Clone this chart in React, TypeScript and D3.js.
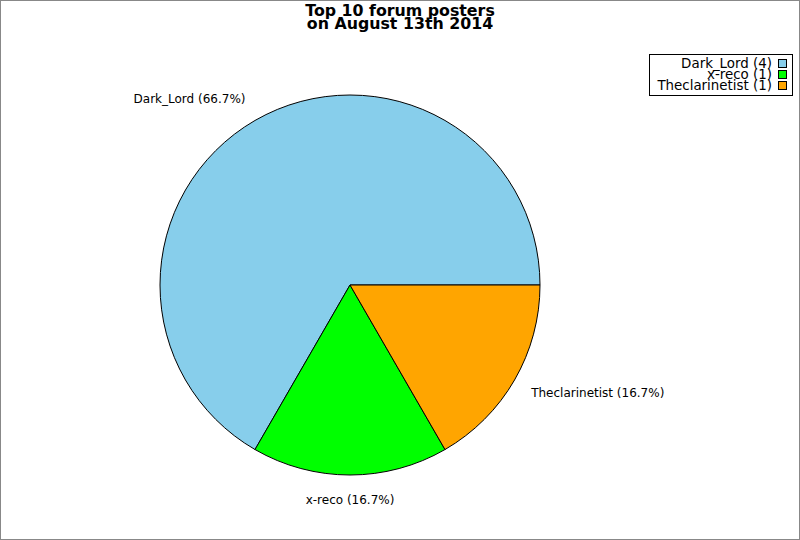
import { useEffect } from "react";
import * as d3 from "d3";

const posters = ["Dark_Lord", "x-reco", "Theclarinetist"];
const posts = [4, 1, 1];
const colors = ["#87CEEB", "#00FF00", "#FFA500"];
const titleLines = ["Top 10 forum posters", "on August 13th 2014"];

const W = 800;
const H = 540;
const CX = 350;
const CY = 285;
const R = 190;
const LABEL_R = 215;
const FONT = "'DejaVu Sans', sans-serif";

export default function App() {
  useEffect(() => {
    document.body.style.margin = "0";
  }, []);

  const total = d3.sum(posts);
  // first slice starts at 3 o'clock and slices run counter-clockwise
  const slices = d3
    .pie<number>()
    .sort(null)
    .startAngle(Math.PI / 2)
    .endAngle(Math.PI / 2 - 2 * Math.PI)(posts);

  const arc = d3.arc<d3.PieArcDatum<number>>().innerRadius(0).outerRadius(R);
  const labelArc = d3
    .arc<d3.PieArcDatum<number>>()
    .innerRadius(LABEL_R)
    .outerRadius(LABEL_R);

  const pct = (v: number) => `${((v / total) * 100).toFixed(1)}%`;

  return (
    <svg width={W} height={H} style={{ display: "block", fontFamily: FONT }}>
      <rect x={0.5} y={0.5} width={W - 1} height={H - 1} fill="#fff" stroke="#888" />
      <text x={400} textAnchor="middle" fontWeight="bold" fontSize={15.8} fill="#000">
        {titleLines.map((t, i) => (
          <tspan key={i} x={400} y={16 + i * 13}>
            {t}
          </tspan>
        ))}
      </text>

      <g transform={`translate(${CX},${CY})`}>
        {slices.map((s, i) => (
          <path key={i} d={arc(s) ?? ""} fill={colors[i]} stroke="#000" strokeWidth={1} />
        ))}
        {slices.map((s, i) => {
          const [x, y] = labelArc.centroid(s);
          const anchor = x > 10 ? "start" : x < -10 ? "end" : "middle";
          const dx = anchor === "start" ? -5 : anchor === "end" ? 3 : 0;
          return (
            <text
              key={i}
              x={x + dx}
              y={y}
              dy="0.35em"
              textAnchor={anchor}
              fontSize={12}
              fill="#000"
            >
              {`${posters[i]} (${pct(posts[i])})`}
            </text>
          );
        })}
      </g>

      <g>
        <rect x={649.5} y={54.5} width={143} height={41} fill="#fff" stroke="#000" />
        {posters.map((p, i) => (
          <g key={i}>
            <text
              x={772}
              y={68 + i * 11}
              textAnchor="end"
              fontSize={13.4}
              fill="#000"
            >
              {`${p} (${posts[i]})`}
            </text>
            <rect
              x={778.5}
              y={59.5 + i * 11}
              width={8}
              height={8}
              fill={colors[i]}
              stroke="#000"
            />
          </g>
        ))}
      </g>
    </svg>
  );
}
